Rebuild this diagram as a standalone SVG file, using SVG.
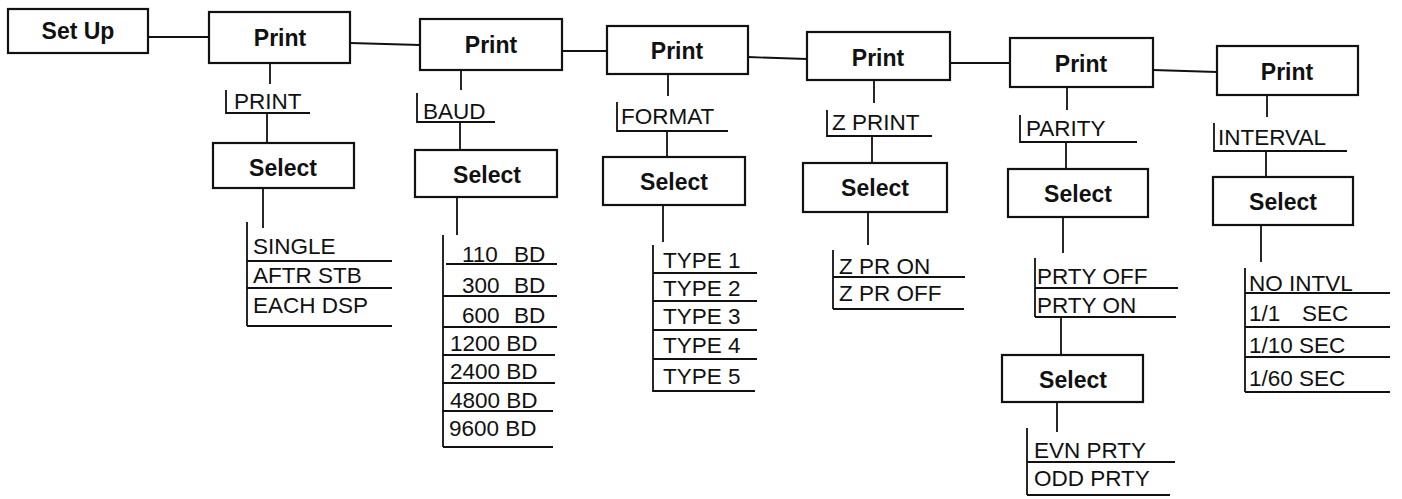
<svg xmlns="http://www.w3.org/2000/svg" width="1402" height="499" viewBox="0 0 1402 499">
<style>
.box{fill:#fff;stroke:#111;stroke-width:2.2}
.ln{stroke:#111;stroke-width:1.8;fill:none}
.bt{font-family:"Liberation Sans",Arial,Helvetica,sans-serif;font-weight:bold;font-size:23px;fill:#111;text-anchor:middle}
.lt{font-family:"Liberation Sans",Arial,Helvetica,sans-serif;font-size:22.5px;fill:#111}
</style>
<rect width="1402" height="499" fill="#fff"/>
<g id="connectors" class="ln">
<path d="M148 37H209M350 43L420 45M562 51H607M748 57L807 59M950 63H1010M1153 70L1217 72"/>
<path d="M270 63V84M267 113V143M263 188V228"/>
<path d="M461 70V90M460 122V150M457 197V235"/>
<path d="M668 74V96M667 131V157M663 205V242"/>
<path d="M874 80V103M872 136V163M868 212V245"/>
<path d="M1067 87V110M1066 142V169M1063 217V253M1061 317V355M1057 402V432"/>
<path d="M1267 95V117M1266 152V177M1261 225V262"/>
</g>
<g id="setup"><rect class="box" x="8" y="9" width="140" height="44"/><text class="bt" x="78" y="39">Set Up</text></g>
<g id="print1"><rect class="box" x="209" y="12" width="141" height="51"/><text class="bt" x="280" y="46">Print</text></g>
<g id="print2"><rect class="box" x="420" y="19" width="142" height="51"/><text class="bt" x="491" y="53">Print</text></g>
<g id="print3"><rect class="box" x="607" y="26" width="141" height="48"/><text class="bt" x="677" y="59">Print</text></g>
<g id="print4"><rect class="box" x="807" y="32" width="143" height="48"/><text class="bt" x="878" y="66">Print</text></g>
<g id="print5"><rect class="box" x="1010" y="38" width="143" height="49"/><text class="bt" x="1081" y="72">Print</text></g>
<g id="print6"><rect class="box" x="1217" y="46" width="141" height="49"/><text class="bt" x="1287" y="80">Print</text></g>

<g id="label-print"><path class="ln" d="M226 90V113H310"/><text class="lt" x="234" y="109">PRINT</text></g>
<g id="label-baud"><path class="ln" d="M417 93V122H495"/><text class="lt" x="423" y="119">BAUD</text></g>
<g id="label-format"><path class="ln" d="M617 102V131H728"/><text class="lt" x="621" y="124">FORMAT</text></g>
<g id="label-zprint"><path class="ln" d="M827 110V136H932"/><text class="lt" x="832" y="130">Z PRINT</text></g>
<g id="label-parity"><path class="ln" d="M1020 115V142H1137"/><text class="lt" x="1026" y="136">PARITY</text></g>
<g id="label-interval"><path class="ln" d="M1214 123V151H1347"/><text class="lt" x="1218" y="145">INTERVAL</text></g>

<g id="select1"><rect class="box" x="213" y="143" width="141" height="45"/><text class="bt" x="283" y="176">Select</text></g>
<g id="select2"><rect class="box" x="415" y="150" width="142" height="47"/><text class="bt" x="487" y="183">Select</text></g>
<g id="select3"><rect class="box" x="603" y="157" width="142" height="48"/><text class="bt" x="674" y="190">Select</text></g>
<g id="select4"><rect class="box" x="803" y="163" width="144" height="49"/><text class="bt" x="875" y="196">Select</text></g>
<g id="select5"><rect class="box" x="1008" y="169" width="140" height="48"/><text class="bt" x="1078" y="202">Select</text></g>
<g id="select6"><rect class="box" x="1002" y="355" width="141" height="47"/><text class="bt" x="1073" y="388">Select</text></g>
<g id="select7"><rect class="box" x="1213" y="177" width="140" height="48"/><text class="bt" x="1283" y="210">Select</text></g>

<g id="opts-print">
<path class="ln" d="M247 222V326M247 261H392M247 288H392M247 326H392"/>
<text class="lt" x="253" y="254">SINGLE</text>
<text class="lt" x="253" y="283">AFTR STB</text>
<text class="lt" x="253" y="313">EACH DSP</text>
</g>
<g id="opts-baud">
<path class="ln" d="M443 235V447M446 264H557M443 296H557M443 327H557M443 355H555M442 383H555M442 411H553M443 447H553"/>
<text class="lt" x="462" y="262">110 <tspan x="514">BD</tspan></text>
<text class="lt" x="462" y="293">300 <tspan x="514">BD</tspan></text>
<text class="lt" x="462" y="323">600 <tspan x="514">BD</tspan></text>
<text class="lt" x="450" y="351">1200 BD</text>
<text class="lt" x="450" y="379">2400 BD</text>
<text class="lt" x="450" y="408">4800 BD</text>
<text class="lt" x="449" y="436">9600 BD</text>
</g>
<g id="opts-format">
<path class="ln" d="M653 245V392M653 273H757M653 301H757M653 330H757M653 359H757M653 391H755"/>
<text class="lt" x="663" y="268">TYPE 1</text>
<text class="lt" x="663" y="296">TYPE 2</text>
<text class="lt" x="663" y="324">TYPE 3</text>
<text class="lt" x="663" y="353">TYPE 4</text>
<text class="lt" x="663" y="384">TYPE 5</text>
</g>
<g id="opts-zprint">
<path class="ln" d="M833 250V309M833 277H965M833 309H964"/>
<text class="lt" x="839" y="274">Z PR ON</text>
<text class="lt" x="839" y="301">Z PR OFF</text>
</g>
<g id="opts-parity">
<path class="ln" d="M1035 258V317M1035 288H1178M1035 317H1176"/>
<text class="lt" x="1037" y="284">PRTY OFF</text>
<text class="lt" x="1037" y="313">PRTY ON</text>
</g>
<g id="opts-parity-type">
<path class="ln" d="M1027 428V495M1027 462H1175M1027 495H1170"/>
<text class="lt" x="1034" y="458">EVN PRTY</text>
<text class="lt" x="1034" y="486">ODD PRTY</text>
</g>
<g id="opts-interval">
<path class="ln" d="M1245 268V392M1245 293H1390M1245 327H1390M1245 357H1390M1245 392H1390"/>
<text class="lt" x="1249" y="291">NO INTVL</text>
<text class="lt" x="1249" y="321">1/1 <tspan x="1302">SEC</tspan></text>
<text class="lt" x="1249" y="353">1/10 SEC</text>
<text class="lt" x="1249" y="386">1/60 SEC</text>
</g>
</svg>
